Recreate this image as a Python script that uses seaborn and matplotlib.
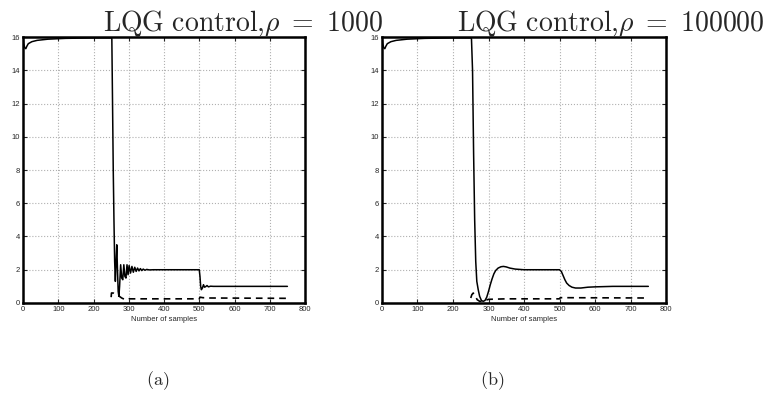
import matplotlib
matplotlib.use("Agg")
import matplotlib.pyplot as plt
import seaborn as sns
import pandas as pd
from matplotlib.transforms import Bbox

# ---- data ----
head_x = [0, 2, 5, 8, 11, 15, 25, 40, 70, 120, 200, 250]
head_y = [16.0, 15.6, 15.35, 15.3, 15.45, 15.6, 15.72, 15.8, 15.87, 15.92, 15.95, 15.95]

# (a) rho = 1000
a_sig_x = [252, 254, 256, 258, 260, 262, 264, 266, 268, 270, 272, 274, 277, 280, 283,
           286, 289, 292, 295, 298, 301, 305, 309, 313, 317, 321, 325, 329, 333, 337,
           341, 346, 351, 358, 370, 500, 502, 504, 506, 509, 512, 515, 518, 522, 526,
           532, 540, 750]
a_sig_y = [15.9, 12.0, 8.0, 5.0, 2.5, 1.3, 2.5, 3.5, 2.0, 0.7, 0.4, 1.0, 2.3, 1.5, 1.4,
           2.3, 1.6, 1.5, 2.3, 1.7, 2.25, 1.8, 2.2, 1.85, 2.15, 1.9, 2.1, 1.93, 2.07, 1.95,
           2.04, 1.97, 2.02, 1.99, 2.0, 2.0, 1.6, 1.0, 0.8, 0.9, 1.1, 0.95, 0.98, 1.05, 0.97,
           1.01, 1.0, 1.0]
a_dash_x = [250, 251, 256, 262, 270, 280, 290, 300, 350, 500, 502, 510, 530, 750]
a_dash_y = [0.35, 0.6, 0.6, 0.5, 0.45, 0.3, 0.2, 0.25, 0.25, 0.25, 0.35, 0.32, 0.3, 0.28]

# (b) rho = 100000
b_sig_x = [252, 255, 258, 261, 264, 267, 271, 275, 280, 285, 290, 295, 300, 305, 310,
           315, 320, 327, 335, 342, 350, 360, 375, 400, 500, 505, 510, 515, 520, 527,
           535, 545, 560, 580, 600, 650, 750]
b_sig_y = [15.9, 14.0, 9.0, 5.0, 2.5, 1.3, 0.8, 0.4, 0.15, 0.1, 0.15, 0.35, 0.7, 1.1, 1.45,
           1.75, 1.95, 2.1, 2.18, 2.2, 2.17, 2.1, 2.04, 2.0, 2.0, 1.9, 1.65, 1.4, 1.2, 1.05,
           0.95, 0.9, 0.9, 0.95, 0.97, 1.0, 1.0]
b_dash_x = [250, 253, 257, 262, 268, 275, 282, 290, 300, 350, 500, 502, 750]
b_dash_y = [0.3, 0.5, 0.6, 0.45, 0.2, 0.1, 0.1, 0.15, 0.22, 0.25, 0.25, 0.32, 0.3]

titles = [r"$\mathrm{LQG\ control}{,}\rho\ =\ 1000$", r"$\mathrm{LQG\ control}{,}\rho\ =\ 100000$"]
captions = [r"$\mathrm{(a)}$", r"$\mathrm{(b)}$"]
xticks = [0, 100, 200, 300, 400, 500, 600, 700, 800]
yticks = [0, 2, 4, 6, 8, 10, 12, 14, 16]

sns.set_style("white")
plt.rcParams["font.family"] = ["Liberation Sans", "DejaVu Sans"]
plt.rcParams["mathtext.fontset"] = "cm"

fig = plt.figure(figsize=(7.72, 3.94), dpi=100)
ax_a = fig.add_axes([0.0298, 0.231, 0.3653, 0.675])
ax_b = fig.add_axes([0.4948, 0.231, 0.368, 0.675])

panels = [(ax_a, a_sig_x, a_sig_y, a_dash_x, a_dash_y),
          (ax_b, b_sig_x, b_sig_y, b_dash_x, b_dash_y)]

for ax, sx, sy, dx, dy in panels:
    solid = pd.DataFrame({"x": head_x + sx, "y": head_y + sy})
    dashed = pd.DataFrame({"x": dx, "y": dy})
    sns.lineplot(data=solid, x="x", y="y", ax=ax, color="black", lw=1.1,
                 estimator=None, sort=False)
    sns.lineplot(data=dashed, x="x", y="y", ax=ax, color="black", lw=1.2,
                 estimator=None, sort=False)
    ax.lines[-1].set_dashes((4, 3))
    ax.set_xlim(0, 800)
    ax.set_ylim(0, 16)
    ax.set_xticks(xticks)
    ax.set_yticks(yticks)
    ax.grid(True, linestyle=":", color="#b0b0b0", lw=0.8)
    ax.tick_params(direction="in", length=3, width=0.8, labelsize=5.5, pad=2,
                   bottom=True, left=True, right=True, top=True)
    for s in ax.spines.values():
        s.set_visible(True)
        s.set_color("black")
        s.set_linewidth(1.8)
    ax.set_xlabel("Number of samples", fontsize=5.5, labelpad=2)
    ax.set_ylabel("")

# left title is cut off by the right panel, as in the original
t1 = fig.text(103 / 772, 1 - 31 / 394, titles[0], fontsize=20, ha="left", va="baseline")
t1.set_clip_on(True)
t1.set_clip_box(Bbox.from_extents(0, 0, 383, 394))
fig.text(457 / 772, 1 - 31 / 394, titles[1], fontsize=20, ha="left", va="baseline")

fig.text(158 / 772, 1 - 381 / 394, captions[0], fontsize=13, ha="center", va="center")
fig.text(492 / 772, 1 - 381 / 394, captions[1], fontsize=13, ha="center", va="center")

fig.savefig("out.png", dpi=100)
